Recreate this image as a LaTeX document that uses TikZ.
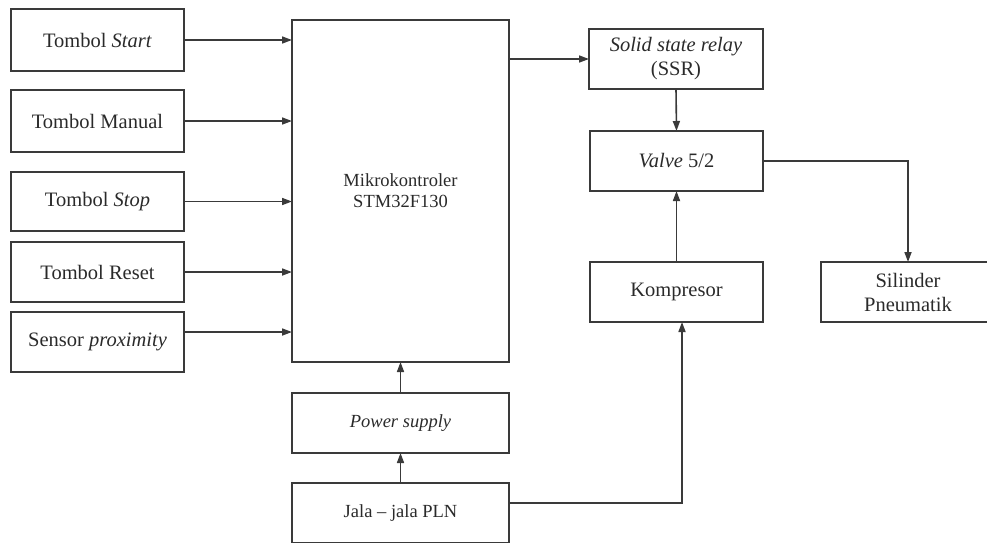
\documentclass[tikz,border=0pt]{standalone}
\usepackage{fontspec}
\setmainfont{Liberation Serif}
\usetikzlibrary{arrows.meta,calc}
\definecolor{ln}{HTML}{3A3A3A}
\definecolor{tx}{HTML}{2A2A2A}
\tikzset{
  blk/.style={draw=ln, line width=1.6pt, rectangle, inner sep=0pt, outer sep=0pt,
    text=tx, align=center, font=\fontsize{20.5}{24}\selectfont},
  sblk/.style={blk, font=\fontsize{18.5}{21}\selectfont},
  conn/.style={draw=ln, line width=1.6pt, -{Triangle[length=10pt,width=7pt]}},
}
\begin{document}
\begin{tikzpicture}[x=1pt,y=-1pt]
\useasboundingbox (0,0) rectangle (987,542);
\node[blk, minimum width=173pt, minimum height=62pt] (start) at (97.5,40) {Tombol \textit{Start}};
\node[blk, minimum width=173pt, minimum height=62pt] (manual) at (97.5,121) {Tombol Manual};
\node[blk, minimum width=173pt, minimum height=59pt] (stop) at (97.5,201.5) {Tombol \textit{Stop}};
\node[blk, minimum width=173pt, minimum height=60pt] (reset) at (97.5,272) {Tombol Reset};
\node[blk, minimum width=173pt, minimum height=60pt] (sensor) at (97.5,342) {Sensor \textit{proximity}};
\node[sblk, minimum width=217pt, minimum height=342pt] (micro) at (400.5,191) {Mikrokontroler\\STM32F130};
\node[blk, minimum width=174pt, minimum height=60pt] (ssr) at (676,59) {\textit{Solid state relay}\\(SSR)};
\node[blk, minimum width=173pt, minimum height=60pt] (valve) at (676.5,161) {\textit{Valve} 5/2};
\node[blk, minimum width=173pt, minimum height=60pt] (komp) at (676.5,292) {Kompresor};
\node[blk, minimum width=174pt, minimum height=60pt] (sil) at (908,292) {Silinder\\Pneumatik};
\node[sblk, minimum width=217pt, minimum height=60pt] (ps) at (400.5,423) {\textit{Power supply}};
\node[sblk, minimum width=217pt, minimum height=60pt] (jala) at (400.5,513) {Jala -- jala PLN};

\draw[conn] (start.east) -- (start.east -| micro.west);
\draw[conn] (manual.east) -- (manual.east -| micro.west);
\draw[conn] (stop.east) -- (stop.east -| micro.west);
\draw[conn] (reset.east) -- (reset.east -| micro.west);
\draw[conn] ([yshift=10pt]sensor.east) -- ([yshift=10pt]sensor.east -| micro.west);
\draw[conn] (micro.east |- ssr.west) -- (ssr.west);
\draw[conn] (ssr.south) -- (valve.north);
\draw[conn] (valve.east) -- (valve.east -| sil.north) -- (sil.north);
\draw[conn] (komp.north) -- (valve.south);
\draw[conn] (ps.north) -- (micro.south);
\draw[conn] (jala.north) -- (ps.south);
\draw[conn] ([yshift=10pt]jala.east) -- ([yshift=10pt,xshift=5.5pt]jala.east -| komp.south) -- ([xshift=5.5pt]komp.south);
\end{tikzpicture}
\end{document}
